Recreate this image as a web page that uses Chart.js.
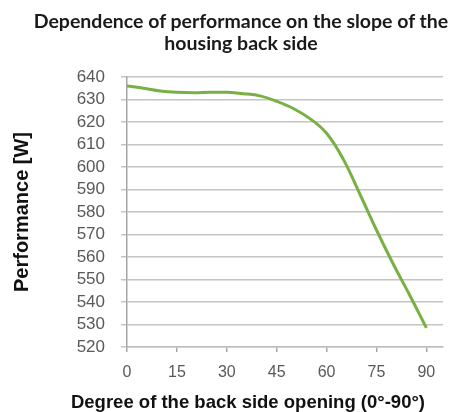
<!DOCTYPE html>
<html lang="en">
<head>
    <meta charset="UTF-8">
    <title>Dependence of performance on the slope of the housing back side</title>
    <style>
        body {
            margin: 0;
            background: #ffffff;
        }

        .wrap {
            position: relative;
            width: 454px;
            height: 412px;
        }

        .title {
            position: absolute;
            left: 21px;
            top: 10px;
            width: 440px;
            text-align: center;
            font-family: Lato, sans-serif;
            font-weight: bold;
            font-size: 19.5px;
            line-height: 22px;
            color: #1a1a1a;
        }

        .x-title {
            position: absolute;
            left: 28px;
            top: 391px;
            width: 440px;
            text-align: center;
            font-family: "Liberation Sans", Arial, sans-serif;
            font-weight: bold;
            font-size: 18.5px;
            color: #111111;
        }

        canvas {
            position: absolute;
            left: 0;
            top: 0;
        }
    </style>
</head>
<body>
    <div class="wrap">
        <canvas id="perfChart" width="454" height="412"></canvas>
        <div class="title">Dependence of performance on the slope of the<br>housing back side</div>
        <div class="x-title">Degree of the back side opening (0°-90°)</div>
    </div>

    <script src="https://cdn.jsdelivr.net/npm/chart.js"></script>
    <script>
        // opening angle (degrees) and performance (W)
        const degrees = [0, 5, 10, 15, 20, 25, 30, 35, 40, 45, 50, 55, 60, 65, 70, 75, 80, 85, 90];
        const performance = [636, 635, 633.8, 633.2, 633, 633.2, 633.2, 632.6, 631.6, 629.2, 626, 621.5, 615, 603.5, 588, 572, 557, 543, 528.5];
        const xTicks = [0, 15, 30, 45, 60, 75, 90];

        const points = degrees.map((d, i) => ({ x: d, y: performance[i] }));

        new Chart(document.getElementById('perfChart'), {
            type: 'line',
            data: {
                datasets: [{
                    data: points,
                    borderColor: '#78b043',
                    borderWidth: 3,
                    pointRadius: 0,
                    tension: 0.4,
                    fill: false
                }]
            },
            options: {
                responsive: false,
                animation: false,
                layout: { padding: { top: 77, right: 11, bottom: 0, left: 0 } },
                plugins: {
                    legend: { display: false },
                    tooltip: { enabled: false }
                },
                scales: {
                    x: {
                        type: 'linear',
                        min: 0,
                        max: 95,
                        afterBuildTicks: (scale) => {
                            scale.ticks = xTicks.map(v => ({ value: v }));
                        },
                        afterFit: (scale) => { scale.height = 65; },
                        grid: {
                            drawOnChartArea: false,
                            color: '#a6a6a6',
                            lineWidth: 1.5,
                            tickLength: 5
                        },
                        border: { color: '#bdbdbd', width: 1.5 },
                        ticks: {
                            autoSkip: false,
                            maxRotation: 0,
                            color: '#595959',
                            padding: 11,
                            font: { family: '"Liberation Sans", Arial, sans-serif', size: 16 }
                        }
                    },
                    y: {
                        min: 520,
                        max: 640,
                        afterFit: (scale) => { scale.width = 127; },
                        grid: {
                            color: '#c4c4c4',
                            lineWidth: 1.5,
                            tickLength: 6
                        },
                        border: { color: '#a6a6a6', width: 1.5 },
                        ticks: {
                            stepSize: 10,
                            autoSkip: false,
                            color: '#595959',
                            padding: 16,
                            font: { family: '"Liberation Sans", Arial, sans-serif', size: 17 }
                        },
                        title: {
                            display: true,
                            text: 'Performance [W]',
                            color: '#111111',
                            padding: { top: 10, bottom: 0 },
                            font: { family: '"Liberation Sans", Arial, sans-serif', size: 20, weight: 'bold' }
                        }
                    }
                }
            }
        });
    </script>
</body>
</html>
